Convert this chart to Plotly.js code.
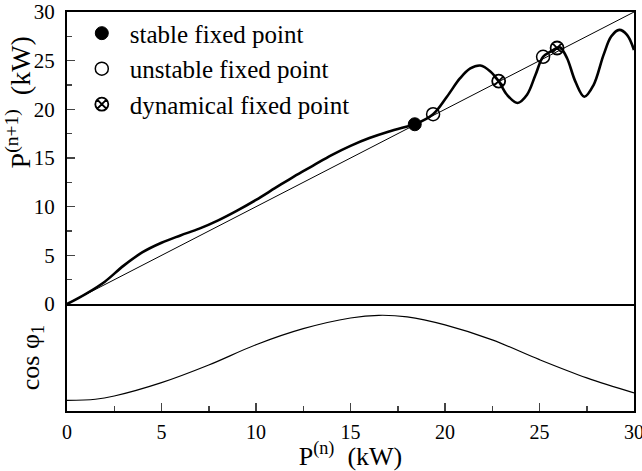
<!DOCTYPE html>
<html>
<head>
<meta charset="utf-8">
<script src="https://cdn.plot.ly/plotly-3.0.1.min.js"></script>
<style>
html,body{margin:0;padding:0;background:#fff;}
#chart{width:642px;height:471px;}
#chart svg text, #chart svg tspan{font-family:"Liberation Serif","Times New Roman","DejaVu Serif",serif !important;}
</style>
</head>
<body>
<div id="chart"></div>
<script>
// P(n) -> P(n+1) map (kW)
const mapPn  = [0, 1, 2, 3, 4, 5, 6, 7, 8, 9, 10, 11, 12, 13, 14, 15, 16, 17, 18, 18.4, 19.37, 20.1, 20.8, 21.34, 21.87, 22.4, 22.84, 23.28, 23.84, 24.34, 24.78, 25.19, 25.6, 25.93, 26.1, 26.46, 26.9, 27.37, 27.86, 28.39, 28.8, 29.22, 29.63, 30];
const mapPn1 = [0, 1.05, 2.3, 3.95, 5.33, 6.3, 7.05, 7.75, 8.6, 9.6, 10.7, 11.9, 13.1, 14.2, 15.3, 16.25, 17.05, 17.7, 18.25, 18.47, 19.5, 21.3, 23.2, 24.2, 24.5, 23.9, 22.9, 21.5, 20.66, 21.5, 23.5, 25.4, 25.95, 26.3, 26.35, 25.25, 22.85, 21.3, 22.5, 25.6, 27.5, 28.16, 27.65, 26.1];
// identity line
const diagX = [0, 30];
const diagY = [0, 30];
// fixed points
const stableX = [18.4],  stableY = [18.47];
const unstableX = [19.37, 25.19], unstableY = [19.5, 25.4];
const dynX = [22.84, 25.93], dynY = [22.9, 26.3];
// cos phi_1 (relative units)
const cosX = [0, 1.5, 2.5, 5, 7.5, 10, 12.5, 15, 16.5, 18, 20, 22.5, 25, 27.5, 30];
const cosY = [0.10, 0.11, 0.14, 0.265, 0.43, 0.62, 0.77, 0.87, 0.895, 0.88, 0.805, 0.665, 0.48, 0.31, 0.17];
// tick values
const xTicks = [0, 5, 10, 15, 20, 25, 30];
const yTicks = [0, 5, 10, 15, 20, 25, 30];

const FONT = "Liberation Serif, Times New Roman, DejaVu Serif, serif";

const traces = [
  {x: diagX, y: diagY, xaxis: 'x2', yaxis: 'y', mode: 'lines', line: {color: '#000', width: 1}, showlegend: false},
  {x: mapPn, y: mapPn1, xaxis: 'x2', yaxis: 'y', mode: 'lines', line: {color: '#000', width: 2.6, shape: 'spline', smoothing: 1}, showlegend: false},
  {x: stableX, y: stableY, xaxis: 'x2', yaxis: 'y', mode: 'markers', name: 'stable fixed point',
   marker: {symbol: 'circle', size: 13, color: '#000', line: {color: '#000', width: 1}}},
  {x: unstableX, y: unstableY, xaxis: 'x2', yaxis: 'y', mode: 'markers', name: 'unstable fixed point',
   marker: {symbol: 'circle-open', size: 13, color: '#000', line: {color: '#000', width: 1.5}}},
  {x: dynX, y: dynY, xaxis: 'x2', yaxis: 'y', mode: 'markers', name: 'dynamical fixed point',
   marker: {symbol: 'circle-x-open', size: 13, color: '#000', line: {color: '#000', width: 1.8}}},
  {x: cosX, y: cosY, xaxis: 'x', yaxis: 'y2', mode: 'lines', line: {color: '#000', width: 1.2, shape: 'spline', smoothing: 1}, showlegend: false}
];

const layout = {
  width: 642, height: 471,
  margin: {l: 67, r: 8, t: 12, b: 60},
  paper_bgcolor: '#fff', plot_bgcolor: '#fff',
  font: {family: FONT, color: '#000', size: 20},
  showlegend: true,
  legend: {x: 0.012, y: 1.004, xanchor: 'left', yanchor: 'top', bgcolor: 'rgba(0,0,0,0)',
           font: {family: FONT, size: 25, color: '#000'}, itemwidth: 46, tracegroupgap: 0},
  xaxis: {domain: [0, 1], anchor: 'y2', range: [0, 30], tickvals: xTicks, ticks: 'inside', ticklen: 8, tickwidth: 1.5,
          minor: {dtick: 2.5, ticks: 'inside', ticklen: 5, tickwidth: 1.5, showgrid: false},
          showline: true, linewidth: 2, linecolor: '#000', mirror: false, showgrid: false, zeroline: false,
          tickfont: {family: FONT, size: 20}, ticklabelstandoff: 2, ticklabeloverflow: 'allow',
          title: {text: 'P<sup>(n)</sup>  (kW)', font: {family: FONT, size: 26}, standoff: 4}},
  xaxis2: {domain: [0, 1], anchor: 'y', matches: 'x', range: [0, 30], showticklabels: false, ticks: '',
           showline: true, linewidth: 2, linecolor: '#000', mirror: true, showgrid: false, zeroline: false},
  yaxis: {domain: [0.268, 1], anchor: 'x2', range: [0, 30], tickvals: yTicks, ticks: 'inside', ticklen: 8, tickwidth: 1.5,
          minor: {dtick: 2.5, ticks: 'inside', ticklen: 5, tickwidth: 1.5, showgrid: false},
          showline: true, linewidth: 2, linecolor: '#000', mirror: true, showgrid: false, zeroline: false,
          tickfont: {family: FONT, size: 21}, ticklabelstandoff: 6},
  yaxis2: {domain: [0, 0.268], anchor: 'x', range: [0, 1], showticklabels: false, ticks: '',
           showline: true, linewidth: 2, linecolor: '#000', mirror: true, showgrid: false, zeroline: false,
           title: {text: 'cos φ<sub>1</sub>', font: {family: FONT, size: 26}, standoff: 18}},
  annotations: [
    {text: 'P<sup>(n+1)</sup>  (kW)', xref: 'paper', yref: 'paper', x: -0.086, y: 0.774,
     xanchor: 'center', yanchor: 'middle', textangle: -90, showarrow: false,
     font: {family: FONT, size: 28, color: '#000'}}
  ]
};

Plotly.newPlot('chart', traces, layout, {staticPlot: true, displayModeBar: false});
</script>
</body>
</html>
